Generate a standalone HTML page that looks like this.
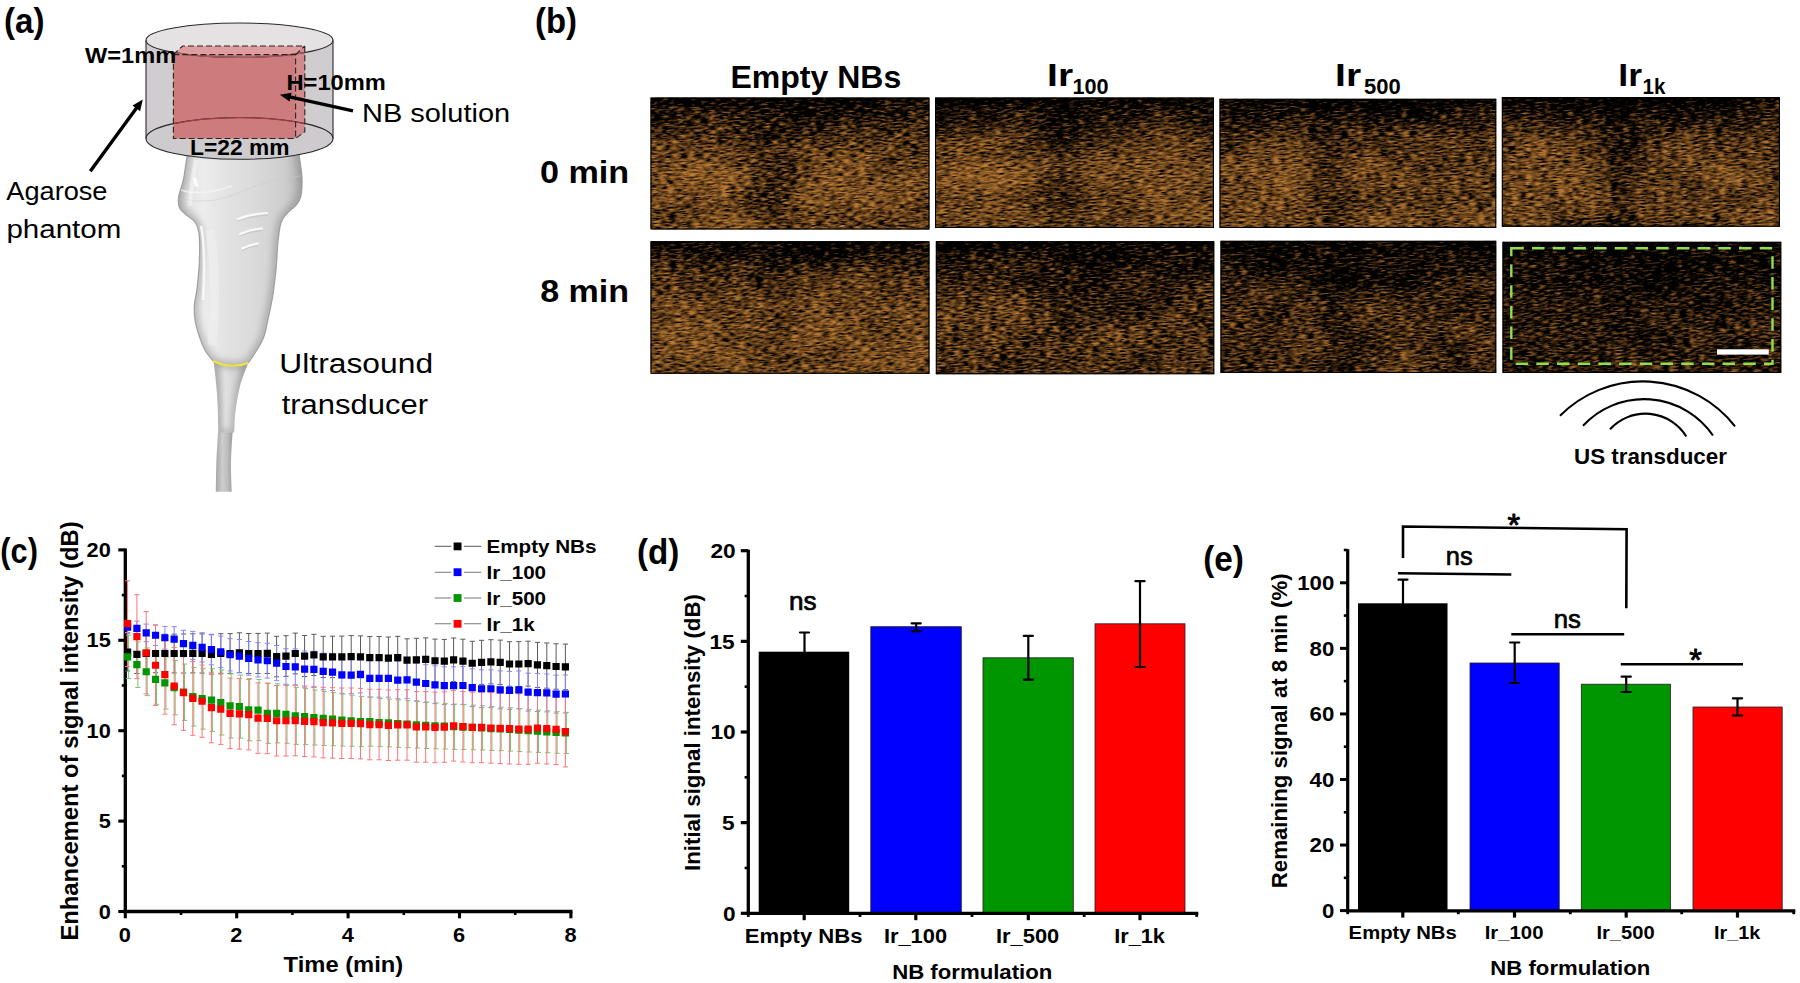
<!DOCTYPE html>
<html lang="en"><head><meta charset="utf-8"><title>Figure: ultrasound imaging of nanobubble formulations</title>
<style>
html,body{margin:0;padding:0;background:#fff;}
body{width:1800px;height:983px;overflow:hidden;}
svg{display:block;font-family:"Liberation Sans", sans-serif;}
text{white-space:pre;}
</style></head><body>
<svg width="1800" height="983" viewBox="0 0 1800 983">
<defs>
<linearGradient id="topdark" x1="0" y1="0" x2="0" y2="1">
<stop offset="0" stop-color="#000" stop-opacity="0.9"/>
<stop offset="0.08" stop-color="#000" stop-opacity="0.6"/>
<stop offset="0.25" stop-color="#000" stop-opacity="0.3"/>
<stop offset="0.4" stop-color="#000" stop-opacity="0.1"/>
<stop offset="0.55" stop-color="#000" stop-opacity="0"/>
</linearGradient>
<radialGradient id="blob">
<stop offset="0" stop-color="#000" stop-opacity="1"/>
<stop offset="0.3" stop-color="#000" stop-opacity="0.8"/>
<stop offset="0.6" stop-color="#000" stop-opacity="0.35"/>
<stop offset="0.85" stop-color="#000" stop-opacity="0.08"/>
<stop offset="1" stop-color="#000" stop-opacity="0"/>
</radialGradient>
<radialGradient id="wblob">
<stop offset="0" stop-color="#fff" stop-opacity="1"/>
<stop offset="0.3" stop-color="#fff" stop-opacity="0.8"/>
<stop offset="0.6" stop-color="#fff" stop-opacity="0.35"/>
<stop offset="0.85" stop-color="#fff" stop-opacity="0.08"/>
<stop offset="1" stop-color="#fff" stop-opacity="0"/>
</radialGradient>
<filter id="soft" x="-5%" y="-5%" width="110%" height="110%"><feGaussianBlur stdDeviation="0.7"/></filter>
<linearGradient id="gbody" gradientUnits="userSpaceOnUse" x1="178" y1="0" x2="302" y2="0">
<stop offset="0" stop-color="#c4c4c4"/><stop offset="0.07" stop-color="#e0e0e0"/><stop offset="0.2" stop-color="#ededed"/>
<stop offset="0.4" stop-color="#e2e2e2"/><stop offset="0.65" stop-color="#d9d9d9"/><stop offset="0.85" stop-color="#cfcfcf"/><stop offset="1" stop-color="#b4b4b4"/>
</linearGradient>
<linearGradient id="gneck" x1="0" y1="0" x2="1" y2="0">
<stop offset="0" stop-color="#bdbdbd"/><stop offset="0.35" stop-color="#e2e2e2"/><stop offset="0.65" stop-color="#d2d2d2"/><stop offset="1" stop-color="#adadad"/>
</linearGradient>
<linearGradient id="gcable" x1="0" y1="0" x2="1" y2="0">
<stop offset="0" stop-color="#a6a6a6"/><stop offset="0.4" stop-color="#cdcdcd"/><stop offset="0.7" stop-color="#bdbdbd"/><stop offset="1" stop-color="#9c9c9c"/>
</linearGradient>
<filter id="soft3" x="-10%" y="-10%" width="120%" height="120%"><feGaussianBlur stdDeviation="3"/></filter>
<clipPath id="clip0"><rect width="279.00" height="132.00"/></clipPath>
<filter id="sp3" x="0" y="0" width="100%" height="100%" color-interpolation-filters="sRGB"><feTurbulence type="fractalNoise" baseFrequency="0.13 0.62" numOctaves="2" seed="3"/><feColorMatrix type="matrix" values="1 0 0 0 0  1 0 0 0 0  1 0 0 0 0  0 0 0 0 1" result="n"/><feTurbulence type="fractalNoise" baseFrequency="0.02 0.035" numOctaves="2" seed="103"/><feColorMatrix type="matrix" values="1 0 0 0 0  1 0 0 0 0  1 0 0 0 0  0 0 0 0 1" result="m"/><feComposite in="n" in2="m" operator="arithmetic" k1="0" k2="1" k3="0.22" k4="-0.11" result="n2"/><feComposite in="n2" in2="SourceGraphic" operator="arithmetic" k1="0" k2="1" k3="0.4" k4="-0.4"/><feColorMatrix type="matrix" values="2.3 0 0 0 -0.552  2.3 0 0 0 -0.552  2.3 0 0 0 -0.552  0 0 0 0 1"/><feComponentTransfer><feFuncR type="gamma" amplitude="0.735" exponent="0.75"/><feFuncG type="gamma" amplitude="0.49" exponent="0.8"/><feFuncB type="gamma" amplitude="0.215" exponent="0.9"/></feComponentTransfer><feGaussianBlur stdDeviation="0.75 0.45"/></filter>
<clipPath id="clip1"><rect width="279.00" height="130.50"/></clipPath>
<filter id="sp7" x="0" y="0" width="100%" height="100%" color-interpolation-filters="sRGB"><feTurbulence type="fractalNoise" baseFrequency="0.13 0.62" numOctaves="2" seed="7"/><feColorMatrix type="matrix" values="1 0 0 0 0  1 0 0 0 0  1 0 0 0 0  0 0 0 0 1" result="n"/><feTurbulence type="fractalNoise" baseFrequency="0.02 0.035" numOctaves="2" seed="107"/><feColorMatrix type="matrix" values="1 0 0 0 0  1 0 0 0 0  1 0 0 0 0  0 0 0 0 1" result="m"/><feComposite in="n" in2="m" operator="arithmetic" k1="0" k2="1" k3="0.22" k4="-0.11" result="n2"/><feComposite in="n2" in2="SourceGraphic" operator="arithmetic" k1="0" k2="1" k3="0.4" k4="-0.4"/><feColorMatrix type="matrix" values="2.3 0 0 0 -0.552  2.3 0 0 0 -0.552  2.3 0 0 0 -0.552  0 0 0 0 1"/><feComponentTransfer><feFuncR type="gamma" amplitude="0.735" exponent="0.75"/><feFuncG type="gamma" amplitude="0.49" exponent="0.8"/><feFuncB type="gamma" amplitude="0.215" exponent="0.9"/></feComponentTransfer><feGaussianBlur stdDeviation="0.75 0.45"/></filter>
<clipPath id="clip2"><rect width="276.80" height="129.30"/></clipPath>
<filter id="sp11" x="0" y="0" width="100%" height="100%" color-interpolation-filters="sRGB"><feTurbulence type="fractalNoise" baseFrequency="0.13 0.62" numOctaves="2" seed="11"/><feColorMatrix type="matrix" values="1 0 0 0 0  1 0 0 0 0  1 0 0 0 0  0 0 0 0 1" result="n"/><feTurbulence type="fractalNoise" baseFrequency="0.02 0.035" numOctaves="2" seed="111"/><feColorMatrix type="matrix" values="1 0 0 0 0  1 0 0 0 0  1 0 0 0 0  0 0 0 0 1" result="m"/><feComposite in="n" in2="m" operator="arithmetic" k1="0" k2="1" k3="0.22" k4="-0.11" result="n2"/><feComposite in="n2" in2="SourceGraphic" operator="arithmetic" k1="0" k2="1" k3="0.4" k4="-0.4"/><feColorMatrix type="matrix" values="2.3 0 0 0 -0.552  2.3 0 0 0 -0.552  2.3 0 0 0 -0.552  0 0 0 0 1"/><feComponentTransfer><feFuncR type="gamma" amplitude="0.735" exponent="0.75"/><feFuncG type="gamma" amplitude="0.49" exponent="0.8"/><feFuncB type="gamma" amplitude="0.215" exponent="0.9"/></feComponentTransfer><feGaussianBlur stdDeviation="0.75 0.45"/></filter>
<clipPath id="clip3"><rect width="278.20" height="129.80"/></clipPath>
<filter id="sp15" x="0" y="0" width="100%" height="100%" color-interpolation-filters="sRGB"><feTurbulence type="fractalNoise" baseFrequency="0.13 0.62" numOctaves="2" seed="15"/><feColorMatrix type="matrix" values="1 0 0 0 0  1 0 0 0 0  1 0 0 0 0  0 0 0 0 1" result="n"/><feTurbulence type="fractalNoise" baseFrequency="0.02 0.035" numOctaves="2" seed="115"/><feColorMatrix type="matrix" values="1 0 0 0 0  1 0 0 0 0  1 0 0 0 0  0 0 0 0 1" result="m"/><feComposite in="n" in2="m" operator="arithmetic" k1="0" k2="1" k3="0.22" k4="-0.11" result="n2"/><feComposite in="n2" in2="SourceGraphic" operator="arithmetic" k1="0" k2="1" k3="0.4" k4="-0.4"/><feColorMatrix type="matrix" values="2.3 0 0 0 -0.552  2.3 0 0 0 -0.552  2.3 0 0 0 -0.552  0 0 0 0 1"/><feComponentTransfer><feFuncR type="gamma" amplitude="0.735" exponent="0.75"/><feFuncG type="gamma" amplitude="0.49" exponent="0.8"/><feFuncB type="gamma" amplitude="0.215" exponent="0.9"/></feComponentTransfer><feGaussianBlur stdDeviation="0.75 0.45"/></filter>
<clipPath id="clip4"><rect width="279.00" height="132.50"/></clipPath>
<filter id="sp19" x="0" y="0" width="100%" height="100%" color-interpolation-filters="sRGB"><feTurbulence type="fractalNoise" baseFrequency="0.13 0.62" numOctaves="2" seed="19"/><feColorMatrix type="matrix" values="1 0 0 0 0  1 0 0 0 0  1 0 0 0 0  0 0 0 0 1" result="n"/><feTurbulence type="fractalNoise" baseFrequency="0.02 0.035" numOctaves="2" seed="119"/><feColorMatrix type="matrix" values="1 0 0 0 0  1 0 0 0 0  1 0 0 0 0  0 0 0 0 1" result="m"/><feComposite in="n" in2="m" operator="arithmetic" k1="0" k2="1" k3="0.22" k4="-0.11" result="n2"/><feComposite in="n2" in2="SourceGraphic" operator="arithmetic" k1="0" k2="1" k3="0.4" k4="-0.4"/><feColorMatrix type="matrix" values="2.3 0 0 0 -0.552  2.3 0 0 0 -0.552  2.3 0 0 0 -0.552  0 0 0 0 1"/><feComponentTransfer><feFuncR type="gamma" amplitude="0.735" exponent="0.75"/><feFuncG type="gamma" amplitude="0.49" exponent="0.8"/><feFuncB type="gamma" amplitude="0.215" exponent="0.9"/></feComponentTransfer><feGaussianBlur stdDeviation="0.75 0.45"/></filter>
<clipPath id="clip5"><rect width="278.50" height="133.00"/></clipPath>
<filter id="sp23" x="0" y="0" width="100%" height="100%" color-interpolation-filters="sRGB"><feTurbulence type="fractalNoise" baseFrequency="0.13 0.62" numOctaves="2" seed="23"/><feColorMatrix type="matrix" values="1 0 0 0 0  1 0 0 0 0  1 0 0 0 0  0 0 0 0 1" result="n"/><feTurbulence type="fractalNoise" baseFrequency="0.02 0.035" numOctaves="2" seed="123"/><feColorMatrix type="matrix" values="1 0 0 0 0  1 0 0 0 0  1 0 0 0 0  0 0 0 0 1" result="m"/><feComposite in="n" in2="m" operator="arithmetic" k1="0" k2="1" k3="0.22" k4="-0.11" result="n2"/><feComposite in="n2" in2="SourceGraphic" operator="arithmetic" k1="0" k2="1" k3="0.4" k4="-0.4"/><feColorMatrix type="matrix" values="2.3 0 0 0 -0.552  2.3 0 0 0 -0.552  2.3 0 0 0 -0.552  0 0 0 0 1"/><feComponentTransfer><feFuncR type="gamma" amplitude="0.735" exponent="0.75"/><feFuncG type="gamma" amplitude="0.49" exponent="0.8"/><feFuncB type="gamma" amplitude="0.215" exponent="0.9"/></feComponentTransfer><feGaussianBlur stdDeviation="0.75 0.45"/></filter>
<clipPath id="clip6"><rect width="275.80" height="132.20"/></clipPath>
<filter id="sp27" x="0" y="0" width="100%" height="100%" color-interpolation-filters="sRGB"><feTurbulence type="fractalNoise" baseFrequency="0.13 0.62" numOctaves="2" seed="27"/><feColorMatrix type="matrix" values="1 0 0 0 0  1 0 0 0 0  1 0 0 0 0  0 0 0 0 1" result="n"/><feTurbulence type="fractalNoise" baseFrequency="0.02 0.035" numOctaves="2" seed="127"/><feColorMatrix type="matrix" values="1 0 0 0 0  1 0 0 0 0  1 0 0 0 0  0 0 0 0 1" result="m"/><feComposite in="n" in2="m" operator="arithmetic" k1="0" k2="1" k3="0.22" k4="-0.11" result="n2"/><feComposite in="n2" in2="SourceGraphic" operator="arithmetic" k1="0" k2="1" k3="0.4" k4="-0.4"/><feColorMatrix type="matrix" values="2.3 0 0 0 -0.552  2.3 0 0 0 -0.552  2.3 0 0 0 -0.552  0 0 0 0 1"/><feComponentTransfer><feFuncR type="gamma" amplitude="0.735" exponent="0.75"/><feFuncG type="gamma" amplitude="0.49" exponent="0.8"/><feFuncB type="gamma" amplitude="0.215" exponent="0.9"/></feComponentTransfer><feGaussianBlur stdDeviation="0.75 0.45"/></filter>
<clipPath id="clip7"><rect width="278.80" height="131.20"/></clipPath>
<filter id="sp31" x="0" y="0" width="100%" height="100%" color-interpolation-filters="sRGB"><feTurbulence type="fractalNoise" baseFrequency="0.13 0.62" numOctaves="2" seed="31"/><feColorMatrix type="matrix" values="1 0 0 0 0  1 0 0 0 0  1 0 0 0 0  0 0 0 0 1" result="n"/><feTurbulence type="fractalNoise" baseFrequency="0.02 0.035" numOctaves="2" seed="131"/><feColorMatrix type="matrix" values="1 0 0 0 0  1 0 0 0 0  1 0 0 0 0  0 0 0 0 1" result="m"/><feComposite in="n" in2="m" operator="arithmetic" k1="0" k2="1" k3="0.22" k4="-0.11" result="n2"/><feComposite in="n2" in2="SourceGraphic" operator="arithmetic" k1="0" k2="1" k3="0.4" k4="-0.4"/><feColorMatrix type="matrix" values="2.3 0 0 0 -0.552  2.3 0 0 0 -0.552  2.3 0 0 0 -0.552  0 0 0 0 1"/><feComponentTransfer><feFuncR type="gamma" amplitude="0.735" exponent="0.75"/><feFuncG type="gamma" amplitude="0.49" exponent="0.8"/><feFuncB type="gamma" amplitude="0.215" exponent="0.9"/></feComponentTransfer><feGaussianBlur stdDeviation="0.75 0.45"/></filter>
</defs>
<rect width="1800" height="983" fill="#fff"/>
<g id="panel-a">
<text transform="translate(3.97,33.40) scale(0.9335,1)" font-size="35.5" font-weight="700" fill="#000">(a)</text>
<g filter="url(#soft)">
<path d="M218.0,432.0C217.7,437.0 216.8,452.1 216.4,462.0C216.0,471.9 215.9,486.8 215.8,491.7L231.7,491.7C231.6,486.8 230.8,471.9 231.0,462.0C231.2,452.1 232.3,437.0 232.6,432.0Z" fill="url(#gcable)"/>
<path d="M213.6,361.5C213.9,364.2 215.0,371.6 215.6,378.0C216.2,384.4 216.9,390.9 217.4,400.0C217.9,409.1 218.2,427.1 218.3,432.5L234.2,432.5C234.4,429.1 234.4,419.8 235.4,412.0C236.4,404.2 237.9,394.1 240.0,386.0C242.1,377.9 246.7,367.2 248.0,363.5Q230.6,369.5 213.6,361.5Z" fill="url(#gneck)"/>
<path d="M189.0,148.0C188.6,149.7 187.6,153.0 186.7,158.3C185.8,163.6 184.7,173.6 183.3,180.0C182.0,186.4 179.2,192.3 178.6,197.0C178.0,201.7 178.2,204.9 179.6,208.0C181.0,211.1 184.4,213.2 187.0,215.5C189.6,217.8 193.0,219.0 195.0,222.0C197.0,225.0 198.3,227.0 199.0,233.3C199.7,239.6 199.7,251.1 199.4,260.0C199.1,268.9 198.0,279.5 197.2,287.0C196.4,294.5 194.8,299.5 194.4,305.0C194.0,310.5 194.3,315.2 195.0,320.0C195.7,324.8 196.8,328.9 198.5,334.0C200.2,339.1 202.5,345.8 205.0,350.3C207.5,354.8 211.9,359.2 213.3,361.0Q230.6,369.5 248.3,363L248.3,363.0C249.3,361.5 251.8,358.2 254.4,354.0C256.9,349.8 261.3,343.5 263.6,337.5C265.9,331.5 266.8,324.8 268.3,318.0C269.8,311.2 271.4,304.8 272.7,296.5C274.0,288.2 275.3,277.1 276.2,268.0C277.1,258.9 277.2,249.1 278.0,241.6C278.8,234.1 279.5,227.7 281.0,223.0C282.5,218.3 284.5,216.4 287.0,213.5C289.5,210.6 293.7,208.4 296.0,205.5C298.3,202.6 300.0,200.7 301.0,196.0C302.0,191.3 302.2,183.8 302.0,177.5C301.8,171.2 300.2,162.9 299.6,158.0C299.0,153.1 298.7,149.7 298.5,148.0Z" fill="url(#gbody)" stroke="#a9a9a9" stroke-width="1.2"/>
<clipPath id="cbody"><path d="M189.0,148.0C188.6,149.7 187.6,153.0 186.7,158.3C185.8,163.6 184.7,173.6 183.3,180.0C182.0,186.4 179.2,192.3 178.6,197.0C178.0,201.7 178.2,204.9 179.6,208.0C181.0,211.1 184.4,213.2 187.0,215.5C189.6,217.8 193.0,219.0 195.0,222.0C197.0,225.0 198.3,227.0 199.0,233.3C199.7,239.6 199.7,251.1 199.4,260.0C199.1,268.9 198.0,279.5 197.2,287.0C196.4,294.5 194.8,299.5 194.4,305.0C194.0,310.5 194.3,315.2 195.0,320.0C195.7,324.8 196.8,328.9 198.5,334.0C200.2,339.1 202.5,345.8 205.0,350.3C207.5,354.8 211.9,359.2 213.3,361.0Q230.6,369.5 248.3,363L248.3,363.0C249.3,361.5 251.8,358.2 254.4,354.0C256.9,349.8 261.3,343.5 263.6,337.5C265.9,331.5 266.8,324.8 268.3,318.0C269.8,311.2 271.4,304.8 272.7,296.5C274.0,288.2 275.3,277.1 276.2,268.0C277.1,258.9 277.2,249.1 278.0,241.6C278.8,234.1 279.5,227.7 281.0,223.0C282.5,218.3 284.5,216.4 287.0,213.5C289.5,210.6 293.7,208.4 296.0,205.5C298.3,202.6 300.0,200.7 301.0,196.0C302.0,191.3 302.2,183.8 302.0,177.5C301.8,171.2 300.2,162.9 299.6,158.0C299.0,153.1 298.7,149.7 298.5,148.0Z"/></clipPath>
<g clip-path="url(#cbody)"><path d="M189.0,148.0C188.6,149.7 187.6,153.0 186.7,158.3C185.8,163.6 184.7,173.6 183.3,180.0C182.0,186.4 179.2,192.3 178.6,197.0C178.0,201.7 178.2,204.9 179.6,208.0C181.0,211.1 184.4,213.2 187.0,215.5C189.6,217.8 193.0,219.0 195.0,222.0C197.0,225.0 198.3,227.0 199.0,233.3C199.7,239.6 199.7,251.1 199.4,260.0C199.1,268.9 198.0,279.5 197.2,287.0C196.4,294.5 194.8,299.5 194.4,305.0C194.0,310.5 194.3,315.2 195.0,320.0C195.7,324.8 196.8,328.9 198.5,334.0C200.2,339.1 202.5,345.8 205.0,350.3C207.5,354.8 211.9,359.2 213.3,361.0Q230.6,369.5 248.3,363L248.3,363.0C249.3,361.5 251.8,358.2 254.4,354.0C256.9,349.8 261.3,343.5 263.6,337.5C265.9,331.5 266.8,324.8 268.3,318.0C269.8,311.2 271.4,304.8 272.7,296.5C274.0,288.2 275.3,277.1 276.2,268.0C277.1,258.9 277.2,249.1 278.0,241.6C278.8,234.1 279.5,227.7 281.0,223.0C282.5,218.3 284.5,216.4 287.0,213.5C289.5,210.6 293.7,208.4 296.0,205.5C298.3,202.6 300.0,200.7 301.0,196.0C302.0,191.3 302.2,183.8 302.0,177.5C301.8,171.2 300.2,162.9 299.6,158.0C299.0,153.1 298.7,149.7 298.5,148.0Z" fill="none" stroke="#7d7d7d" stroke-width="9" opacity="0.42" filter="url(#soft3)"/></g>
<clipPath id="cneck"><path d="M213.6,361.5C213.9,364.2 215.0,371.6 215.6,378.0C216.2,384.4 216.9,390.9 217.4,400.0C217.9,409.1 218.2,427.1 218.3,432.5L234.2,432.5C234.4,429.1 234.4,419.8 235.4,412.0C236.4,404.2 237.9,394.1 240.0,386.0C242.1,377.9 246.7,367.2 248.0,363.5Q230.6,369.5 213.6,361.5Z"/></clipPath>
<g clip-path="url(#cneck)"><path d="M213.6,361.5C213.9,364.2 215.0,371.6 215.6,378.0C216.2,384.4 216.9,390.9 217.4,400.0C217.9,409.1 218.2,427.1 218.3,432.5L234.2,432.5C234.4,429.1 234.4,419.8 235.4,412.0C236.4,404.2 237.9,394.1 240.0,386.0C242.1,377.9 246.7,367.2 248.0,363.5Q230.6,369.5 213.6,361.5Z" fill="none" stroke="#777" stroke-width="6" opacity="0.4" filter="url(#soft3)"/></g>
<path d="M180,199 Q215,206 245,190 Q275,178 301,176" fill="none" stroke="#c9c9c9" stroke-width="0.8" opacity="0.6"/>
<path d="M181,190 Q200,197 232,186" fill="none" stroke="#f6f6f6" stroke-width="1.8" opacity="0.7"/>
<path d="M192.5,177 l4.5,1.5 l1.5,9 l-4,-1.5z" fill="#fbfbfb"/>
<path d="M196,160 Q191,185 190,206" fill="none" stroke="#fafafa" stroke-width="4" opacity="0.45"/>
<path d="M201,226 Q206,250 203,300" fill="none" stroke="#fbfbfb" stroke-width="2.6" opacity="0.9"/>
<path d="M210,230 Q218,280 212,345" fill="none" stroke="#f0f0f0" stroke-width="9" opacity="0.55"/>
<path d="M238,219 Q252,213.5 267,213" fill="none" stroke="#fafafa" stroke-width="2" stroke-linecap="round"/>
<path d="M240,234 Q251,229 262,228.5" fill="none" stroke="#fafafa" stroke-width="2" stroke-linecap="round"/>
<path d="M242,248.5 Q250,244.5 258,243.5" fill="none" stroke="#fafafa" stroke-width="2" stroke-linecap="round"/>
<path d="M238,221 Q252,215.5 267,215" fill="none" stroke="#bdbdbd" stroke-width="1" stroke-linecap="round" opacity="0.7"/>
<path d="M240,236 Q251,231 262,230.5" fill="none" stroke="#bdbdbd" stroke-width="1" stroke-linecap="round" opacity="0.7"/>
<path d="M242,250.5 Q250,246.5 258,245.5" fill="none" stroke="#bdbdbd" stroke-width="1" stroke-linecap="round" opacity="0.7"/>
</g>
<path d="M213.3,361 Q230.6,369.5 248.3,363" fill="none" stroke="#f1e23c" stroke-width="2.1"/>
<path d="M146,40.5 L146,138.5 A93.5,20.9 0 0 0 333,138.4 L333,40.5 A93.5,17 0 0 1 146,40.5Z" fill="#cfcdcf"/>
<ellipse cx="239.5" cy="138.4" rx="93.5" ry="20.9" fill="#cdcbcd"/>
<ellipse cx="239.5" cy="40.2" rx="93.5" ry="17.2" fill="#e4e2e3"/>
<path d="M173.4,54.6 L182.6,46 L304.8,46 L295.6,54.6Z" fill="#de9d9f"/>
<path d="M295.6,54.6 L304.8,46 L304.8,131.8 L295.6,138.5Z" fill="#d18b8c"/>
<rect x="173.4" y="54.6" width="122.2" height="83.9" fill="#cd7c7d"/>
<ellipse cx="239.5" cy="138.4" rx="93.5" ry="20.9" fill="none" stroke="#2a2a2a" stroke-width="1.1"/>
<path d="M173.4,123.6 A93.5,20.9 0 0 1 304.8,123.6" fill="none" stroke="#a23c40" stroke-width="1.3"/>
<ellipse cx="239.5" cy="40.2" rx="93.5" ry="17.2" fill="none" stroke="#2a2a2a" stroke-width="1.1"/>
<path d="M173.4,52.4 A93.5,17.2 0 0 0 304.8,52.6" fill="none" stroke="#b05a5c" stroke-width="1.1"/>
<line x1="146.00" y1="40.50" x2="146.00" y2="138.50" stroke="#2a2a2a" stroke-width="1.1" />
<line x1="333.00" y1="40.50" x2="333.00" y2="138.50" stroke="#2a2a2a" stroke-width="1.1" />
<path d="M173.4,54.6 L182.6,46 L304.8,46 L304.8,131.8 L295.6,138.5 L173.4,138.5Z M173.4,54.6 L295.6,54.6 L295.6,138.5 M295.6,54.6 L304.8,46" fill="none" stroke="#2c2224" stroke-width="1.1" stroke-dasharray="6 3"/>
<line x1="90.30" y1="171.20" x2="136.89" y2="107.57" stroke="#000" stroke-width="3.4" />
<path d="M142.8,99.5 L140.1,111.2 L132.5,105.6Z" fill="#000"/>
<line x1="353.00" y1="110.90" x2="289.56" y2="96.86" stroke="#000" stroke-width="3.4" />
<path d="M279.8,94.7 L291.5,92.7 L289.6,101.5Z" fill="#000"/>
<text transform="translate(85.00,62.60) scale(1.0444,1)" font-size="22.6" font-weight="700" fill="#000">W=1mm</text>
<text transform="translate(286.45,89.80) scale(1.0482,1)" font-size="22.6" font-weight="700" fill="#000">H=10mm</text>
<text transform="translate(190.09,155.40) scale(1.0073,1)" font-size="22.6" font-weight="700" fill="#000">L=22 mm</text>
<text transform="translate(362.00,122.00) scale(1.0977,1)" font-size="26.4" font-weight="400" fill="#000">NB solution</text>
<text transform="translate(6.30,200.00) scale(1.0218,1)" font-size="26.6" font-weight="400" fill="#000">Agarose</text>
<text transform="translate(6.39,238.30) scale(1.1101,1)" font-size="26.6" font-weight="400" fill="#000">phantom</text>
<text transform="translate(279.36,373.00) scale(1.1686,1)" font-size="27.2" font-weight="400" fill="#000">Ultrasound</text>
<text transform="translate(281.70,413.80) scale(1.1394,1)" font-size="27.2" font-weight="400" fill="#000">transducer</text>
</g>
<g id="panel-b">
<text transform="translate(535.07,33.40) scale(0.9263,1)" font-size="35.5" font-weight="700" fill="#000">(b)</text>
<text transform="translate(730.43,87.50) scale(1.0331,1)" font-size="31" font-weight="700" fill="#000">Empty NBs</text>
<text transform="translate(539.93,183.00) scale(1.0675,1)" font-size="32" font-weight="700" fill="#000">0 min</text>
<text transform="translate(540.19,301.75) scale(1.0644,1)" font-size="32" font-weight="700" fill="#000">8 min</text>
<text transform="translate(1047.06,85.75) scale(1.2175,1)" font-size="32" font-weight="700" fill="#000">Ir</text>
<text transform="translate(1072.49,94.25) scale(1.0096,1)" font-size="21.5" font-weight="700" fill="#000">100</text>
<text transform="translate(1335.06,85.75) scale(1.2175,1)" font-size="32" font-weight="700" fill="#000">Ir</text>
<text transform="translate(1364.00,94.25) scale(1.0233,1)" font-size="21.5" font-weight="700" fill="#000">500</text>
<text transform="translate(1618.28,85.75) scale(1.1117,1)" font-size="32" font-weight="700" fill="#000">Ir</text>
<text transform="translate(1642.54,94.25) scale(0.9583,1)" font-size="21.5" font-weight="700" fill="#000">1k</text>
<g transform="translate(650.50,97.50)" clip-path="url(#clip0)">
<rect width="279.00" height="132.00" fill="#000"/>
<g transform="rotate(-4 139.5 66.0)" filter="url(#sp3)"><g transform="rotate(4 139.5 66.0)">
<rect x="-60" y="-60" width="399.00" height="252.00" fill="rgb(217,217,217)"/>
<rect width="279.00" height="132.00" fill="url(#topdark)" opacity="1.0"/>
<ellipse cx="120.0" cy="66.0" rx="36.3" ry="158.4" fill="url(#blob)" opacity="0.28"/>
<ellipse cx="133.9" cy="0.0" rx="78.1" ry="52.8" fill="url(#blob)" opacity="0.32"/>
<ellipse cx="50.2" cy="81.8" rx="61.4" ry="52.8" fill="url(#wblob)" opacity="0.7"/>
<ellipse cx="209.2" cy="79.2" rx="69.8" ry="46.2" fill="url(#wblob)" opacity="0.6"/>
</g></g>
<rect x="0.4" y="0.4" width="278.20" height="131.20" fill="none" stroke="#000" stroke-width="1.4"/>
</g>
<g transform="translate(935.00,97.50)" clip-path="url(#clip1)">
<rect width="279.00" height="130.50" fill="#000"/>
<g transform="rotate(-5 139.5 65.2)" filter="url(#sp7)"><g transform="rotate(5 139.5 65.2)">
<rect x="-60" y="-60" width="399.00" height="250.50" fill="rgb(217,217,217)"/>
<rect width="279.00" height="130.50" fill="url(#topdark)" opacity="1.0"/>
<ellipse cx="125.5" cy="65.2" rx="39.1" ry="156.6" fill="url(#blob)" opacity="0.3"/>
<ellipse cx="167.4" cy="0.0" rx="83.7" ry="45.7" fill="url(#blob)" opacity="0.28"/>
<ellipse cx="195.3" cy="130.5" rx="83.7" ry="39.1" fill="url(#blob)" opacity="0.15"/>
<ellipse cx="44.6" cy="78.3" rx="61.4" ry="54.8" fill="url(#wblob)" opacity="0.8"/>
<ellipse cx="237.2" cy="65.2" rx="55.8" ry="45.7" fill="url(#wblob)" opacity="0.6"/>
</g></g>
<rect x="0.4" y="0.4" width="278.20" height="129.70" fill="none" stroke="#000" stroke-width="1.4"/>
</g>
<g transform="translate(1219.50,98.70)" clip-path="url(#clip2)">
<rect width="276.80" height="129.30" fill="#000"/>
<g transform="rotate(-4 138.4 64.7)" filter="url(#sp11)"><g transform="rotate(4 138.4 64.7)">
<rect x="-60" y="-60" width="396.80" height="249.30" fill="rgb(209,209,209)"/>
<rect width="276.80" height="129.30" fill="url(#topdark)" opacity="1.0"/>
<ellipse cx="110.7" cy="64.7" rx="33.2" ry="155.2" fill="url(#blob)" opacity="0.28"/>
<ellipse cx="207.6" cy="64.7" rx="83.0" ry="116.4" fill="url(#blob)" opacity="0.06"/>
<ellipse cx="138.4" cy="0.0" rx="110.7" ry="38.8" fill="url(#blob)" opacity="0.22"/>
<ellipse cx="38.8" cy="80.2" rx="55.4" ry="51.7" fill="url(#wblob)" opacity="0.8"/>
</g></g>
<rect x="0.4" y="0.4" width="276.00" height="128.50" fill="none" stroke="#000" stroke-width="1.4"/>
</g>
<g transform="translate(1501.80,97.00)" clip-path="url(#clip3)">
<rect width="278.20" height="129.80" fill="#000"/>
<g transform="rotate(-4 139.1 64.9)" filter="url(#sp15)"><g transform="rotate(4 139.1 64.9)">
<rect x="-60" y="-60" width="398.20" height="249.80" fill="rgb(204,204,204)"/>
<rect width="278.20" height="129.80" fill="url(#topdark)" opacity="1.0"/>
<ellipse cx="119.6" cy="64.9" rx="33.4" ry="155.8" fill="url(#blob)" opacity="0.34"/>
<ellipse cx="139.1" cy="0.0" rx="139.1" ry="32.5" fill="url(#blob)" opacity="0.2"/>
<ellipse cx="139.1" cy="129.8" rx="166.9" ry="15.6" fill="url(#blob)" opacity="0.25"/>
<ellipse cx="44.5" cy="64.9" rx="61.2" ry="51.9" fill="url(#wblob)" opacity="0.5"/>
<ellipse cx="222.6" cy="71.4" rx="61.2" ry="45.4" fill="url(#wblob)" opacity="0.4"/>
</g></g>
<rect x="0.4" y="0.4" width="277.40" height="129.00" fill="none" stroke="#000" stroke-width="1.4"/>
</g>
<g transform="translate(650.50,241.30)" clip-path="url(#clip4)">
<rect width="279.00" height="132.50" fill="#000"/>
<g transform="rotate(-5 139.5 66.2)" filter="url(#sp19)"><g transform="rotate(5 139.5 66.2)">
<rect x="-60" y="-60" width="399.00" height="252.50" fill="rgb(217,217,217)"/>
<rect width="279.00" height="132.50" fill="url(#topdark)" opacity="0.9"/>
<ellipse cx="125.5" cy="66.2" rx="27.9" ry="159.0" fill="url(#blob)" opacity="0.1"/>
<ellipse cx="167.4" cy="0.0" rx="111.6" ry="33.1" fill="url(#blob)" opacity="0.22"/>
<ellipse cx="55.8" cy="79.5" rx="69.8" ry="53.0" fill="url(#wblob)" opacity="0.4"/>
<ellipse cx="223.2" cy="79.5" rx="69.8" ry="53.0" fill="url(#wblob)" opacity="0.4"/>
</g></g>
<rect x="0.4" y="0.4" width="278.20" height="131.70" fill="none" stroke="#000" stroke-width="1.4"/>
</g>
<g transform="translate(935.80,241.30)" clip-path="url(#clip5)">
<rect width="278.50" height="133.00" fill="#000"/>
<g transform="rotate(-4 139.2 66.5)" filter="url(#sp23)"><g transform="rotate(4 139.2 66.5)">
<rect x="-60" y="-60" width="398.50" height="253.00" fill="rgb(168,168,168)"/>
<rect width="278.50" height="133.00" fill="url(#topdark)" opacity="1.0"/>
<ellipse cx="167.1" cy="39.9" rx="97.5" ry="79.8" fill="url(#blob)" opacity="0.22"/>
<ellipse cx="125.3" cy="66.5" rx="27.9" ry="159.6" fill="url(#blob)" opacity="0.1"/>
<ellipse cx="33.4" cy="73.2" rx="55.7" ry="59.9" fill="url(#wblob)" opacity="0.4"/>
</g></g>
<rect x="0.4" y="0.4" width="277.70" height="132.20" fill="none" stroke="#000" stroke-width="1.4"/>
</g>
<g transform="translate(1220.50,240.80)" clip-path="url(#clip6)">
<rect width="275.80" height="132.20" fill="#000"/>
<g transform="rotate(-4 137.9 66.1)" filter="url(#sp27)"><g transform="rotate(4 137.9 66.1)">
<rect x="-60" y="-60" width="395.80" height="252.20" fill="rgb(153,153,153)"/>
<rect width="275.80" height="132.20" fill="url(#topdark)" opacity="1.0"/>
<ellipse cx="137.9" cy="13.2" rx="137.9" ry="52.9" fill="url(#blob)" opacity="0.25"/>
<ellipse cx="115.8" cy="66.1" rx="27.6" ry="158.6" fill="url(#blob)" opacity="0.12"/>
</g></g>
<rect x="0.4" y="0.4" width="275.00" height="131.40" fill="none" stroke="#000" stroke-width="1.4"/>
</g>
<g transform="translate(1502.50,241.80)" clip-path="url(#clip7)">
<rect width="278.80" height="131.20" fill="#000"/>
<g transform="rotate(-5 139.4 65.6)" filter="url(#sp31)"><g transform="rotate(5 139.4 65.6)">
<rect x="-60" y="-60" width="398.80" height="251.20" fill="rgb(122,122,122)"/>
<rect width="278.80" height="131.20" fill="url(#topdark)" opacity="1.0"/>
<ellipse cx="153.3" cy="26.2" rx="125.5" ry="59.0" fill="url(#blob)" opacity="0.2"/>
<ellipse cx="139.4" cy="65.6" rx="41.8" ry="157.4" fill="url(#blob)" opacity="0.08"/>
</g></g>
<rect x="0.4" y="0.4" width="278.00" height="130.40" fill="none" stroke="#000" stroke-width="1.4"/>
</g>
<rect x="1511.3" y="248.3" width="261.2" height="115.4" fill="none" stroke="#92dc50" stroke-width="2.4" stroke-dasharray="12.5 8.2"/>
<rect x="1717.00" y="349.30" width="51.80" height="5.30" fill="#ffffff" />
<path d="M1560,415.8 A117,117 0 0 1 1735,426.3 M1583,425.8 A83.4,83.4 0 0 1 1713,435.5 M1610,429.3 A48,48 0 0 1 1686.3,436.5" fill="none" stroke="#000" stroke-width="2.1"/>
<text transform="translate(1573.97,463.75) scale(1.0318,1)" font-size="21.7" font-weight="700" fill="#000">US transducer</text>
</g>
<g id="panel-c">
<line x1="125.30" y1="548.40" x2="125.30" y2="913.20" stroke="#000" stroke-width="3.3" />
<line x1="123.70" y1="911.50" x2="572.50" y2="911.50" stroke="#000" stroke-width="3.3" />
<line x1="118.30" y1="911.50" x2="125.30" y2="911.50" stroke="#000" stroke-width="3.1" />
<line x1="118.30" y1="821.10" x2="125.30" y2="821.10" stroke="#000" stroke-width="3.1" />
<line x1="118.30" y1="730.70" x2="125.30" y2="730.70" stroke="#000" stroke-width="3.1" />
<line x1="118.30" y1="640.30" x2="125.30" y2="640.30" stroke="#000" stroke-width="3.1" />
<line x1="118.30" y1="549.90" x2="125.30" y2="549.90" stroke="#000" stroke-width="3.1" />
<line x1="121.80" y1="866.30" x2="125.30" y2="866.30" stroke="#000" stroke-width="2.6" />
<line x1="121.80" y1="775.90" x2="125.30" y2="775.90" stroke="#000" stroke-width="2.6" />
<line x1="121.80" y1="685.50" x2="125.30" y2="685.50" stroke="#000" stroke-width="2.6" />
<line x1="121.80" y1="595.10" x2="125.30" y2="595.10" stroke="#000" stroke-width="2.6" />
<line x1="125.30" y1="911.50" x2="125.30" y2="918.30" stroke="#000" stroke-width="3.1" />
<line x1="236.70" y1="911.50" x2="236.70" y2="918.30" stroke="#000" stroke-width="3.1" />
<line x1="348.10" y1="911.50" x2="348.10" y2="918.30" stroke="#000" stroke-width="3.1" />
<line x1="459.50" y1="911.50" x2="459.50" y2="918.30" stroke="#000" stroke-width="3.1" />
<line x1="570.90" y1="911.50" x2="570.90" y2="918.30" stroke="#000" stroke-width="3.1" />
<line x1="181.00" y1="911.50" x2="181.00" y2="915.00" stroke="#000" stroke-width="2.6" />
<line x1="292.40" y1="911.50" x2="292.40" y2="915.00" stroke="#000" stroke-width="2.6" />
<line x1="403.80" y1="911.50" x2="403.80" y2="915.00" stroke="#000" stroke-width="2.6" />
<line x1="515.20" y1="911.50" x2="515.20" y2="915.00" stroke="#000" stroke-width="2.6" />
<path d="M127.6,633.1V671.0M125.0,633.1h5.2M125.0,671.0h5.2M136.9,635.3V673.5M134.3,635.3h5.2M134.3,673.5h5.2M146.2,634.4V672.6M143.6,634.4h5.2M143.6,672.6h5.2M155.5,634.3V672.7M152.9,634.3h5.2M152.9,672.7h5.2M164.9,634.2V672.8M162.3,634.2h5.2M162.3,672.8h5.2M174.2,634.1V672.9M171.6,634.1h5.2M171.6,672.9h5.2M183.5,634.0V673.0M180.9,634.0h5.2M180.9,673.0h5.2M192.8,633.8V672.9M190.2,633.8h5.2M190.2,672.9h5.2M202.1,633.9V673.1M199.5,633.9h5.2M199.5,673.1h5.2M211.4,634.7V674.1M208.8,634.7h5.2M208.8,674.1h5.2M220.8,633.7V673.3M218.2,633.7h5.2M218.2,673.3h5.2M230.1,633.6V673.4M227.5,633.6h5.2M227.5,673.4h5.2M239.4,632.8V672.7M236.8,632.8h5.2M236.8,672.7h5.2M248.7,633.5V673.5M246.1,633.5h5.2M246.1,673.5h5.2M258.0,633.4V673.6M255.4,633.4h5.2M255.4,673.6h5.2M267.3,633.1V673.5M264.7,633.1h5.2M264.7,673.5h5.2M276.6,636.3V676.8M274.0,636.3h5.2M274.0,676.8h5.2M286.0,635.7V676.4M283.4,635.7h5.2M283.4,676.4h5.2M295.3,633.1V673.9M292.7,633.1h5.2M292.7,673.9h5.2M304.6,635.5V676.5M302.0,635.5h5.2M302.0,676.5h5.2M313.9,634.3V675.5M311.3,634.3h5.2M311.3,675.5h5.2M323.2,636.3V677.6M320.6,636.3h5.2M320.6,677.6h5.2M332.5,636.2V677.7M329.9,636.2h5.2M329.9,677.7h5.2M341.8,636.1V677.8M339.2,636.1h5.2M339.2,677.8h5.2M351.2,635.6V677.5M348.6,635.6h5.2M348.6,677.5h5.2M360.5,635.9V677.9M357.9,635.9h5.2M357.9,677.9h5.2M369.8,636.6V678.7M367.2,636.6h5.2M367.2,678.7h5.2M379.1,636.5V678.8M376.5,636.5h5.2M376.5,678.8h5.2M388.4,637.0V679.4M385.8,637.0h5.2M385.8,679.4h5.2M397.7,636.3V679.0M395.1,636.3h5.2M395.1,679.0h5.2M407.0,638.8V681.6M404.4,638.8h5.2M404.4,681.6h5.2M416.4,638.3V681.3M413.8,638.3h5.2M413.8,681.3h5.2M425.7,637.9V681.0M423.1,637.9h5.2M423.1,681.0h5.2M435.0,639.1V682.4M432.4,639.1h5.2M432.4,682.4h5.2M444.3,639.4V682.8M441.7,639.4h5.2M441.7,682.8h5.2M453.6,638.0V681.6M451.0,638.0h5.2M451.0,681.6h5.2M462.9,639.2V683.0M460.3,639.2h5.2M460.3,683.0h5.2M472.3,641.3V685.2M469.7,641.3h5.2M469.7,685.2h5.2M481.6,640.3V684.4M479.0,640.3h5.2M479.0,684.4h5.2M490.9,639.7V683.9M488.3,639.7h5.2M488.3,683.9h5.2M500.2,640.1V684.6M497.6,640.1h5.2M497.6,684.6h5.2M509.5,641.7V686.3M506.9,641.7h5.2M506.9,686.3h5.2M518.8,641.6V686.4M516.2,641.6h5.2M516.2,686.4h5.2M528.1,641.2V686.1M525.5,641.2h5.2M525.5,686.1h5.2M537.5,642.4V687.4M534.9,642.4h5.2M534.9,687.4h5.2M546.8,643.0V688.2M544.2,643.0h5.2M544.2,688.2h5.2M556.1,643.8V689.2M553.5,643.8h5.2M553.5,689.2h5.2M565.4,644.1V689.7M562.8,644.1h5.2M562.8,689.7h5.2" fill="none" stroke="#5a5a5a" stroke-width="1.0"/>
<path d="M127.6,621.7V632.5M125.0,621.7h5.2M125.0,632.5h5.2M136.9,621.1V635.6M134.3,621.1h5.2M134.3,635.6h5.2M146.2,624.1V641.7M143.6,624.1h5.2M143.6,641.7h5.2M155.5,625.1V645.4M152.9,625.1h5.2M152.9,645.4h5.2M164.9,626.4V649.1M162.3,626.4h5.2M162.3,649.1h5.2M174.2,626.7V651.4M171.6,626.7h5.2M171.6,651.4h5.2M183.5,630.3V656.8M180.9,630.3h5.2M180.9,656.8h5.2M192.8,631.4V659.4M190.2,631.4h5.2M190.2,659.4h5.2M202.1,632.7V662.0M199.5,632.7h5.2M199.5,662.0h5.2M211.4,634.3V664.8M208.8,634.3h5.2M208.8,664.8h5.2M220.8,636.1V667.6M218.2,636.1h5.2M218.2,667.6h5.2M230.1,638.6V670.9M227.5,638.6h5.2M227.5,670.9h5.2M239.4,639.5V672.6M236.8,639.5h5.2M236.8,672.6h5.2M248.7,641.5V675.2M246.1,641.5h5.2M246.1,675.2h5.2M258.0,642.7V677.0M255.4,642.7h5.2M255.4,677.0h5.2M267.3,643.3V678.1M264.7,643.3h5.2M264.7,678.1h5.2M276.6,645.5V680.7M274.0,645.5h5.2M274.0,680.7h5.2M286.0,648.7V684.3M283.4,648.7h5.2M283.4,684.3h5.2M295.3,648.9V684.8M292.7,648.9h5.2M292.7,684.8h5.2M304.6,651.0V687.1M302.0,651.0h5.2M302.0,687.1h5.2M313.9,651.2V687.6M311.3,651.2h5.2M311.3,687.6h5.2M323.2,653.1V689.7M320.6,653.1h5.2M320.6,689.7h5.2M332.5,653.7V690.5M329.9,653.7h5.2M329.9,690.5h5.2M341.8,656.4V693.3M339.2,656.4h5.2M339.2,693.3h5.2M351.2,656.7V693.7M348.6,656.7h5.2M348.6,693.7h5.2M360.5,655.7V692.9M357.9,655.7h5.2M357.9,692.9h5.2M369.8,659.8V697.1M367.2,659.8h5.2M367.2,697.1h5.2M379.1,659.8V697.1M376.5,659.8h5.2M376.5,697.1h5.2M388.4,659.7V697.2M385.8,659.7h5.2M385.8,697.2h5.2M397.7,661.3V698.8M395.1,661.3h5.2M395.1,698.8h5.2M407.0,661.1V698.7M404.4,661.1h5.2M404.4,698.7h5.2M416.4,663.2V700.9M413.8,663.2h5.2M413.8,700.9h5.2M425.7,664.7V702.4M423.1,664.7h5.2M423.1,702.4h5.2M435.0,665.9V703.6M432.4,665.9h5.2M432.4,703.6h5.2M444.3,666.8V704.6M441.7,666.8h5.2M441.7,704.6h5.2M453.6,666.8V704.6M451.0,666.8h5.2M451.0,704.6h5.2M462.9,666.6V704.4M460.3,666.6h5.2M460.3,704.4h5.2M472.3,668.8V706.6M469.7,668.8h5.2M469.7,706.6h5.2M481.6,669.8V707.7M479.0,669.8h5.2M479.0,707.7h5.2M490.9,669.8V707.7M488.3,669.8h5.2M488.3,707.7h5.2M500.2,670.9V708.8M497.6,670.9h5.2M497.6,708.8h5.2M509.5,671.4V709.3M506.9,671.4h5.2M506.9,709.3h5.2M518.8,670.9V708.8M516.2,670.9h5.2M516.2,708.8h5.2M528.1,673.2V711.1M525.5,673.2h5.2M525.5,711.1h5.2M537.5,673.6V711.5M534.9,673.6h5.2M534.9,711.5h5.2M546.8,674.0V711.9M544.2,674.0h5.2M544.2,711.9h5.2M556.1,675.2V713.1M553.5,675.2h5.2M553.5,713.1h5.2M565.4,675.0V713.0M562.8,675.0h5.2M562.8,713.0h5.2" fill="none" stroke="#8585ff" stroke-width="1.0"/>
<path d="M128.6,635.2V678.6M126.0,635.2h5.2M126.0,678.6h5.2M137.9,641.9V687.5M135.3,641.9h5.2M135.3,687.5h5.2M147.2,647.9V695.6M144.6,647.9h5.2M144.6,695.6h5.2M156.5,654.4V704.3M153.9,654.4h5.2M153.9,704.3h5.2M165.9,656.9V709.0M163.3,656.9h5.2M163.3,709.0h5.2M175.2,660.5V714.8M172.6,660.5h5.2M172.6,714.8h5.2M184.5,664.0V720.4M181.9,664.0h5.2M181.9,720.4h5.2M193.8,667.4V726.0M191.2,667.4h5.2M191.2,726.0h5.2M203.1,668.3V729.1M200.5,668.3h5.2M200.5,729.1h5.2M212.4,668.7V731.6M209.8,668.7h5.2M209.8,731.6h5.2M221.8,670.0V735.0M219.2,670.0h5.2M219.2,735.0h5.2M231.1,673.9V738.0M228.5,673.9h5.2M228.5,738.0h5.2M240.4,675.1V738.2M237.8,675.1h5.2M237.8,738.2h5.2M249.7,678.7V740.8M247.1,678.7h5.2M247.1,740.8h5.2M259.0,679.5V740.6M256.4,679.5h5.2M256.4,740.6h5.2M268.3,683.3V743.4M265.7,683.3h5.2M265.7,743.4h5.2M277.6,683.8V742.9M275.0,683.8h5.2M275.0,742.9h5.2M287.0,685.2V743.3M284.4,685.2h5.2M284.4,743.3h5.2M296.3,687.3V744.4M293.7,687.3h5.2M293.7,744.4h5.2M305.6,688.6V744.6M303.0,688.6h5.2M303.0,744.6h5.2M314.9,690.0V745.0M312.3,690.0h5.2M312.3,745.0h5.2M324.2,691.4V745.5M321.6,691.4h5.2M321.6,745.5h5.2M333.5,692.6V745.7M330.9,692.6h5.2M330.9,745.7h5.2M342.8,694.0V746.1M340.2,694.0h5.2M340.2,746.1h5.2M352.2,695.2V746.3M349.6,695.2h5.2M349.6,746.3h5.2M361.5,696.6V746.7M358.9,696.6h5.2M358.9,746.7h5.2M370.8,697.1V746.2M368.2,697.1h5.2M368.2,746.2h5.2M380.1,698.5V746.6M377.5,698.5h5.2M377.5,746.6h5.2M389.4,699.1V746.8M386.8,699.1h5.2M386.8,746.8h5.2M398.7,699.9V747.4M396.1,699.9h5.2M396.1,747.4h5.2M408.0,700.7V747.7M405.4,700.7h5.2M405.4,747.7h5.2M417.4,701.4V748.1M414.8,701.4h5.2M414.8,748.1h5.2M426.7,702.1V748.5M424.1,702.1h5.2M424.1,748.5h5.2M436.0,702.8V748.8M433.4,702.8h5.2M433.4,748.8h5.2M445.3,703.3V749.0M442.7,703.3h5.2M442.7,749.0h5.2M454.6,704.1V749.4M452.0,704.1h5.2M452.0,749.4h5.2M463.9,704.6V749.6M461.3,704.6h5.2M461.3,749.6h5.2M473.3,705.1V749.8M470.7,705.1h5.2M470.7,749.8h5.2M482.6,705.8V750.1M480.0,705.8h5.2M480.0,750.1h5.2M491.9,706.5V750.5M489.3,706.5h5.2M489.3,750.5h5.2M501.2,707.1V750.7M498.6,707.1h5.2M498.6,750.7h5.2M510.5,707.8V751.1M507.9,707.8h5.2M507.9,751.1h5.2M519.8,708.7V751.6M517.2,708.7h5.2M517.2,751.6h5.2M529.1,709.4V752.0M526.5,709.4h5.2M526.5,752.0h5.2M538.5,710.1V752.4M535.9,710.1h5.2M535.9,752.4h5.2M547.8,710.8V752.7M545.2,710.8h5.2M545.2,752.7h5.2M557.1,711.7V753.3M554.5,711.7h5.2M554.5,753.3h5.2M566.4,712.3V753.5M563.8,712.3h5.2M563.8,753.5h5.2" fill="none" stroke="#74c874" stroke-width="1.0"/>
<path d="M127.6,580.8V666.5M125.0,580.8h5.2M125.0,666.5h5.2M136.9,594.7V678.7M134.3,594.7h5.2M134.3,678.7h5.2M146.2,611.6V693.9M143.6,611.6h5.2M143.6,693.9h5.2M155.5,624.9V705.6M152.9,624.9h5.2M152.9,705.6h5.2M164.9,635.2V714.1M162.3,635.2h5.2M162.3,714.1h5.2M174.2,647.4V724.7M171.6,647.4h5.2M171.6,724.7h5.2M183.5,654.8V730.3M180.9,654.8h5.2M180.9,730.3h5.2M192.8,661.4V735.3M190.2,661.4h5.2M190.2,735.3h5.2M202.1,665.1V737.3M199.5,665.1h5.2M199.5,737.3h5.2M211.4,672.3V742.8M208.8,672.3h5.2M208.8,742.8h5.2M220.8,673.9V744.4M218.2,673.9h5.2M218.2,744.4h5.2M230.1,678.1V748.6M227.5,678.1h5.2M227.5,748.6h5.2M239.4,678.6V749.1M236.8,678.6h5.2M236.8,749.1h5.2M248.7,679.4V749.9M246.1,679.4h5.2M246.1,749.9h5.2M258.0,682.8V753.3M255.4,682.8h5.2M255.4,753.3h5.2M267.3,683.1V753.7M264.7,683.1h5.2M264.7,753.7h5.2M276.6,685.5V756.0M274.0,685.5h5.2M274.0,756.0h5.2M286.0,685.5V756.0M283.4,685.5h5.2M283.4,756.0h5.2M295.3,685.3V755.8M292.7,685.3h5.2M292.7,755.8h5.2M304.6,686.0V756.6M302.0,686.0h5.2M302.0,756.6h5.2M313.9,686.4V756.9M311.3,686.4h5.2M311.3,756.9h5.2M323.2,687.3V757.8M320.6,687.3h5.2M320.6,757.8h5.2M332.5,687.7V758.2M329.9,687.7h5.2M329.9,758.2h5.2M341.8,688.0V758.5M339.2,688.0h5.2M339.2,758.5h5.2M351.2,688.0V758.5M348.6,688.0h5.2M348.6,758.5h5.2M360.5,688.4V758.9M357.9,688.4h5.2M357.9,758.9h5.2M369.8,689.3V759.8M367.2,689.3h5.2M367.2,759.8h5.2M379.1,689.3V759.8M376.5,689.3h5.2M376.5,759.8h5.2M388.4,690.0V760.5M385.8,690.0h5.2M385.8,760.5h5.2M397.7,689.7V760.2M395.1,689.7h5.2M395.1,760.2h5.2M407.0,689.7V760.2M404.4,689.7h5.2M404.4,760.2h5.2M416.4,691.6V762.2M413.8,691.6h5.2M413.8,762.2h5.2M425.7,691.6V762.2M423.1,691.6h5.2M423.1,762.2h5.2M435.0,692.2V762.7M432.4,692.2h5.2M432.4,762.7h5.2M444.3,691.8V762.3M441.7,691.8h5.2M441.7,762.3h5.2M453.6,690.6V761.1M451.0,690.6h5.2M451.0,761.1h5.2M462.9,691.5V762.0M460.3,691.5h5.2M460.3,762.0h5.2M472.3,692.2V762.7M469.7,692.2h5.2M469.7,762.7h5.2M481.6,692.2V762.7M479.0,692.2h5.2M479.0,762.7h5.2M490.9,692.7V763.2M488.3,692.7h5.2M488.3,763.2h5.2M500.2,693.1V763.6M497.6,693.1h5.2M497.6,763.6h5.2M509.5,693.5V764.0M506.9,693.5h5.2M506.9,764.0h5.2M518.8,693.8V764.3M516.2,693.8h5.2M516.2,764.3h5.2M528.1,693.8V764.3M525.5,693.8h5.2M525.5,764.3h5.2M537.5,692.7V763.2M534.9,692.7h5.2M534.9,763.2h5.2M546.8,693.5V764.0M544.2,693.5h5.2M544.2,764.0h5.2M556.1,694.2V764.7M553.5,694.2h5.2M553.5,764.7h5.2M565.4,696.3V766.9M562.8,696.3h5.2M562.8,766.9h5.2" fill="none" stroke="#ff7676" stroke-width="1.0"/>
<path d="M124.00,648.45h7.2v7.2h-7.2zM133.31,650.80h7.2v7.2h-7.2zM142.63,649.90h7.2v7.2h-7.2zM151.94,649.90h7.2v7.2h-7.2zM161.26,649.90h7.2v7.2h-7.2zM170.57,649.90h7.2v7.2h-7.2zM179.89,649.90h7.2v7.2h-7.2zM189.21,649.72h7.2v7.2h-7.2zM198.52,649.90h7.2v7.2h-7.2zM207.84,650.80h7.2v7.2h-7.2zM217.15,649.90h7.2v7.2h-7.2zM226.47,649.90h7.2v7.2h-7.2zM235.78,649.18h7.2v7.2h-7.2zM245.09,649.90h7.2v7.2h-7.2zM254.41,649.90h7.2v7.2h-7.2zM263.72,649.72h7.2v7.2h-7.2zM273.04,652.97h7.2v7.2h-7.2zM282.35,652.43h7.2v7.2h-7.2zM291.67,649.90h7.2v7.2h-7.2zM300.98,652.43h7.2v7.2h-7.2zM310.30,651.34h7.2v7.2h-7.2zM319.61,653.33h7.2v7.2h-7.2zM328.93,653.33h7.2v7.2h-7.2zM338.24,653.33h7.2v7.2h-7.2zM347.56,652.97h7.2v7.2h-7.2zM356.88,653.33h7.2v7.2h-7.2zM366.19,654.06h7.2v7.2h-7.2zM375.50,654.06h7.2v7.2h-7.2zM384.82,654.60h7.2v7.2h-7.2zM394.13,654.06h7.2v7.2h-7.2zM403.45,656.59h7.2v7.2h-7.2zM412.76,656.23h7.2v7.2h-7.2zM422.08,655.86h7.2v7.2h-7.2zM431.39,657.13h7.2v7.2h-7.2zM440.71,657.49h7.2v7.2h-7.2zM450.02,656.23h7.2v7.2h-7.2zM459.34,657.49h7.2v7.2h-7.2zM468.65,659.66h7.2v7.2h-7.2zM477.97,658.76h7.2v7.2h-7.2zM487.28,658.22h7.2v7.2h-7.2zM496.60,658.76h7.2v7.2h-7.2zM505.91,660.38h7.2v7.2h-7.2zM515.23,660.38h7.2v7.2h-7.2zM524.54,660.02h7.2v7.2h-7.2zM533.86,661.29h7.2v7.2h-7.2zM543.17,662.01h7.2v7.2h-7.2zM552.49,662.92h7.2v7.2h-7.2zM561.80,663.28h7.2v7.2h-7.2z" fill="#000000"/>
<path d="M124.00,623.50h7.2v7.2h-7.2zM133.31,624.77h7.2v7.2h-7.2zM142.63,629.29h7.2v7.2h-7.2zM151.94,631.64h7.2v7.2h-7.2zM161.26,634.17h7.2v7.2h-7.2zM170.57,635.43h7.2v7.2h-7.2zM179.89,639.95h7.2v7.2h-7.2zM189.21,641.76h7.2v7.2h-7.2zM198.52,643.75h7.2v7.2h-7.2zM207.84,645.92h7.2v7.2h-7.2zM217.15,648.27h7.2v7.2h-7.2zM226.47,651.16h7.2v7.2h-7.2zM235.78,652.43h7.2v7.2h-7.2zM245.09,654.78h7.2v7.2h-7.2zM254.41,656.23h7.2v7.2h-7.2zM263.72,657.13h7.2v7.2h-7.2zM273.04,659.48h7.2v7.2h-7.2zM282.35,662.92h7.2v7.2h-7.2zM291.67,663.28h7.2v7.2h-7.2zM300.98,665.45h7.2v7.2h-7.2zM310.30,665.81h7.2v7.2h-7.2zM319.61,667.80h7.2v7.2h-7.2zM328.93,668.52h7.2v7.2h-7.2zM338.24,671.23h7.2v7.2h-7.2zM347.56,671.59h7.2v7.2h-7.2zM356.88,670.69h7.2v7.2h-7.2zM366.19,674.85h7.2v7.2h-7.2zM375.50,674.85h7.2v7.2h-7.2zM384.82,674.85h7.2v7.2h-7.2zM394.13,676.48h7.2v7.2h-7.2zM403.45,676.30h7.2v7.2h-7.2zM412.76,678.46h7.2v7.2h-7.2zM422.08,679.91h7.2v7.2h-7.2zM431.39,681.18h7.2v7.2h-7.2zM440.71,682.08h7.2v7.2h-7.2zM450.02,682.08h7.2v7.2h-7.2zM459.34,681.90h7.2v7.2h-7.2zM468.65,684.07h7.2v7.2h-7.2zM477.97,685.15h7.2v7.2h-7.2zM487.28,685.15h7.2v7.2h-7.2zM496.60,686.24h7.2v7.2h-7.2zM505.91,686.78h7.2v7.2h-7.2zM515.23,686.24h7.2v7.2h-7.2zM524.54,688.59h7.2v7.2h-7.2zM533.86,688.95h7.2v7.2h-7.2zM543.17,689.31h7.2v7.2h-7.2zM552.49,690.58h7.2v7.2h-7.2zM561.80,690.40h7.2v7.2h-7.2z" fill="#0000ff"/>
<path d="M124.00,653.33h7.2v7.2h-7.2zM133.31,661.11h7.2v7.2h-7.2zM142.63,668.16h7.2v7.2h-7.2zM151.94,675.75h7.2v7.2h-7.2zM161.26,679.37h7.2v7.2h-7.2zM170.57,684.07h7.2v7.2h-7.2zM179.89,688.59h7.2v7.2h-7.2zM189.21,693.11h7.2v7.2h-7.2zM198.52,695.10h7.2v7.2h-7.2zM207.84,696.54h7.2v7.2h-7.2zM217.15,698.90h7.2v7.2h-7.2zM226.47,702.33h7.2v7.2h-7.2zM235.78,703.05h7.2v7.2h-7.2zM245.09,706.13h7.2v7.2h-7.2zM254.41,706.49h7.2v7.2h-7.2zM263.72,709.74h7.2v7.2h-7.2zM273.04,709.74h7.2v7.2h-7.2zM282.35,710.65h7.2v7.2h-7.2zM291.67,712.27h7.2v7.2h-7.2zM300.98,713.00h7.2v7.2h-7.2zM310.30,713.90h7.2v7.2h-7.2zM319.61,714.81h7.2v7.2h-7.2zM328.93,715.53h7.2v7.2h-7.2zM338.24,716.43h7.2v7.2h-7.2zM347.56,717.16h7.2v7.2h-7.2zM356.88,718.06h7.2v7.2h-7.2zM366.19,718.06h7.2v7.2h-7.2zM375.50,718.96h7.2v7.2h-7.2zM384.82,719.33h7.2v7.2h-7.2zM394.13,720.05h7.2v7.2h-7.2zM403.45,720.59h7.2v7.2h-7.2zM412.76,721.13h7.2v7.2h-7.2zM422.08,721.68h7.2v7.2h-7.2zM431.39,722.22h7.2v7.2h-7.2zM440.71,722.58h7.2v7.2h-7.2zM450.02,723.12h7.2v7.2h-7.2zM459.34,723.48h7.2v7.2h-7.2zM468.65,723.85h7.2v7.2h-7.2zM477.97,724.39h7.2v7.2h-7.2zM487.28,724.93h7.2v7.2h-7.2zM496.60,725.29h7.2v7.2h-7.2zM505.91,725.83h7.2v7.2h-7.2zM515.23,726.56h7.2v7.2h-7.2zM524.54,727.10h7.2v7.2h-7.2zM533.86,727.64h7.2v7.2h-7.2zM543.17,728.18h7.2v7.2h-7.2zM552.49,728.91h7.2v7.2h-7.2zM561.80,729.27h7.2v7.2h-7.2z" fill="#009600"/>
<path d="M124.00,620.07h7.2v7.2h-7.2zM133.31,633.08h7.2v7.2h-7.2zM142.63,649.18h7.2v7.2h-7.2zM151.94,661.65h7.2v7.2h-7.2zM161.26,671.05h7.2v7.2h-7.2zM170.57,682.44h7.2v7.2h-7.2zM179.89,688.95h7.2v7.2h-7.2zM189.21,694.74h7.2v7.2h-7.2zM198.52,697.63h7.2v7.2h-7.2zM207.84,703.96h7.2v7.2h-7.2zM217.15,705.58h7.2v7.2h-7.2zM226.47,709.74h7.2v7.2h-7.2zM235.78,710.29h7.2v7.2h-7.2zM245.09,711.01h7.2v7.2h-7.2zM254.41,714.44h7.2v7.2h-7.2zM263.72,714.81h7.2v7.2h-7.2zM273.04,717.16h7.2v7.2h-7.2zM282.35,717.16h7.2v7.2h-7.2zM291.67,716.98h7.2v7.2h-7.2zM300.98,717.70h7.2v7.2h-7.2zM310.30,718.06h7.2v7.2h-7.2zM319.61,718.96h7.2v7.2h-7.2zM328.93,719.33h7.2v7.2h-7.2zM338.24,719.69h7.2v7.2h-7.2zM347.56,719.69h7.2v7.2h-7.2zM356.88,720.05h7.2v7.2h-7.2zM366.19,720.95h7.2v7.2h-7.2zM375.50,720.95h7.2v7.2h-7.2zM384.82,721.68h7.2v7.2h-7.2zM394.13,721.31h7.2v7.2h-7.2zM403.45,721.31h7.2v7.2h-7.2zM412.76,723.30h7.2v7.2h-7.2zM422.08,723.30h7.2v7.2h-7.2zM431.39,723.85h7.2v7.2h-7.2zM440.71,723.48h7.2v7.2h-7.2zM450.02,722.22h7.2v7.2h-7.2zM459.34,723.12h7.2v7.2h-7.2zM468.65,723.85h7.2v7.2h-7.2zM477.97,723.85h7.2v7.2h-7.2zM487.28,724.39h7.2v7.2h-7.2zM496.60,724.75h7.2v7.2h-7.2zM505.91,725.11h7.2v7.2h-7.2zM515.23,725.47h7.2v7.2h-7.2zM524.54,725.47h7.2v7.2h-7.2zM533.86,724.39h7.2v7.2h-7.2zM543.17,725.11h7.2v7.2h-7.2zM552.49,725.83h7.2v7.2h-7.2zM561.80,728.00h7.2v7.2h-7.2z" fill="#ff0000"/>
<text transform="translate(98.70,918.50) scale(1.1000,1)" font-size="19.8" font-weight="700" fill="#000">0</text>
<text transform="translate(98.70,828.10) scale(1.1000,1)" font-size="19.8" font-weight="700" fill="#000">5</text>
<text transform="translate(86.60,737.70) scale(1.1000,1)" font-size="19.8" font-weight="700" fill="#000">10</text>
<text transform="translate(86.60,647.30) scale(1.1000,1)" font-size="19.8" font-weight="700" fill="#000">15</text>
<text transform="translate(86.60,556.90) scale(1.1000,1)" font-size="19.8" font-weight="700" fill="#000">20</text>
<text transform="translate(118.85,942.20) scale(1.1000,1)" font-size="19.8" font-weight="700" fill="#000">0</text>
<text transform="translate(230.25,942.20) scale(1.1000,1)" font-size="19.8" font-weight="700" fill="#000">2</text>
<text transform="translate(341.65,942.20) scale(1.1000,1)" font-size="19.8" font-weight="700" fill="#000">4</text>
<text transform="translate(453.05,942.20) scale(1.1000,1)" font-size="19.8" font-weight="700" fill="#000">6</text>
<text transform="translate(564.45,942.20) scale(1.1000,1)" font-size="19.8" font-weight="700" fill="#000">8</text>
<text transform="translate(283.60,972.00) scale(1.0425,1)" font-size="22.8" font-weight="700" fill="#000">Time (min)</text>
<text transform="translate(77.90,940.58) rotate(-90) scale(0.9836,1)" font-size="24.2" font-weight="700" fill="#000">Enhancement of signal intensity (dB)</text>
<text transform="translate(0.33,562.90) scale(0.8661,1)" font-size="35.5" font-weight="700" fill="#000">(c)</text>
<line x1="434.70" y1="546.40" x2="481.30" y2="546.40" stroke="#777" stroke-width="1.1" />
<rect x="451.30" y="541.40" width="12.60" height="10.00" fill="#fff" />
<rect x="453.60" y="542.50" width="7.90" height="7.80" fill="#000000" />
<text transform="translate(486.43,553.40) scale(1.0750,1)" font-size="19.2" font-weight="700" fill="#000">Empty NBs</text>
<line x1="434.70" y1="572.20" x2="481.30" y2="572.20" stroke="#777" stroke-width="1.1" />
<rect x="451.30" y="567.20" width="12.60" height="10.00" fill="#fff" />
<rect x="453.60" y="568.30" width="7.90" height="7.80" fill="#0000ff" />
<text transform="translate(486.43,579.20) scale(1.0750,1)" font-size="19.2" font-weight="700" fill="#000">Ir_100</text>
<line x1="434.70" y1="598.00" x2="481.30" y2="598.00" stroke="#777" stroke-width="1.1" />
<rect x="451.30" y="593.00" width="12.60" height="10.00" fill="#fff" />
<rect x="453.60" y="594.10" width="7.90" height="7.80" fill="#009600" />
<text transform="translate(486.43,605.00) scale(1.0750,1)" font-size="19.2" font-weight="700" fill="#000">Ir_500</text>
<line x1="434.70" y1="623.80" x2="481.30" y2="623.80" stroke="#777" stroke-width="1.1" />
<rect x="451.30" y="618.80" width="12.60" height="10.00" fill="#fff" />
<rect x="453.60" y="619.90" width="7.90" height="7.80" fill="#ff0000" />
<text transform="translate(486.43,630.80) scale(1.0750,1)" font-size="19.2" font-weight="700" fill="#000">Ir_1k</text>
</g>
<g id="panel-d">
<rect x="758.70" y="651.70" width="90.50" height="261.60" fill="#000000" />
<rect x="870.80" y="626.70" width="90.50" height="286.60" fill="#0000ff" stroke="#222" stroke-width="0.8" />
<rect x="983.00" y="657.80" width="90.30" height="255.50" fill="#009600" stroke="#222" stroke-width="0.8" />
<rect x="1095.00" y="623.80" width="90.00" height="289.50" fill="#ff0000" stroke="#222" stroke-width="0.8" />
<line x1="804.50" y1="632.50" x2="804.50" y2="652.00" stroke="#000" stroke-width="2.2" />
<line x1="800.00" y1="632.50" x2="809.00" y2="632.50" stroke="#000" stroke-width="2.2" stroke-linecap="round"/>
<line x1="916.20" y1="623.30" x2="916.20" y2="631.20" stroke="#000" stroke-width="2.2" />
<line x1="911.60" y1="623.30" x2="920.80" y2="623.30" stroke="#000" stroke-width="2.2" stroke-linecap="round"/>
<line x1="911.60" y1="631.20" x2="920.80" y2="631.20" stroke="#000" stroke-width="2.2" stroke-linecap="round"/>
<line x1="1028.30" y1="635.80" x2="1028.30" y2="679.70" stroke="#000" stroke-width="2.2" />
<line x1="1023.70" y1="635.80" x2="1032.90" y2="635.80" stroke="#000" stroke-width="2.2" stroke-linecap="round"/>
<line x1="1023.70" y1="679.70" x2="1032.90" y2="679.70" stroke="#000" stroke-width="2.2" stroke-linecap="round"/>
<line x1="1140.00" y1="581.20" x2="1140.00" y2="667.00" stroke="#000" stroke-width="2.2" />
<line x1="1135.40" y1="581.20" x2="1144.60" y2="581.20" stroke="#000" stroke-width="2.2" stroke-linecap="round"/>
<line x1="1135.40" y1="667.00" x2="1144.60" y2="667.00" stroke="#000" stroke-width="2.2" stroke-linecap="round"/>
<line x1="748.30" y1="549.70" x2="748.30" y2="915.00" stroke="#000" stroke-width="3.3" />
<line x1="746.70" y1="913.40" x2="1198.30" y2="913.40" stroke="#000" stroke-width="3.4" />
<line x1="740.80" y1="913.30" x2="748.30" y2="913.30" stroke="#000" stroke-width="3.2" />
<line x1="740.80" y1="822.65" x2="748.30" y2="822.65" stroke="#000" stroke-width="3.2" />
<line x1="740.80" y1="732.00" x2="748.30" y2="732.00" stroke="#000" stroke-width="3.2" />
<line x1="740.80" y1="641.35" x2="748.30" y2="641.35" stroke="#000" stroke-width="3.2" />
<line x1="740.80" y1="550.70" x2="748.30" y2="550.70" stroke="#000" stroke-width="3.2" />
<line x1="744.60" y1="867.97" x2="748.30" y2="867.97" stroke="#000" stroke-width="2.6" />
<line x1="744.60" y1="777.32" x2="748.30" y2="777.32" stroke="#000" stroke-width="2.6" />
<line x1="744.60" y1="686.67" x2="748.30" y2="686.67" stroke="#000" stroke-width="2.6" />
<line x1="744.60" y1="596.02" x2="748.30" y2="596.02" stroke="#000" stroke-width="2.6" />
<line x1="804.20" y1="913.40" x2="804.20" y2="920.20" stroke="#000" stroke-width="3.2" />
<line x1="915.80" y1="913.40" x2="915.80" y2="920.20" stroke="#000" stroke-width="3.2" />
<line x1="1028.30" y1="913.40" x2="1028.30" y2="920.20" stroke="#000" stroke-width="3.2" />
<line x1="1140.00" y1="913.40" x2="1140.00" y2="920.20" stroke="#000" stroke-width="3.2" />
<line x1="748.30" y1="913.40" x2="748.30" y2="916.90" stroke="#000" stroke-width="2.8" />
<line x1="860.00" y1="913.40" x2="860.00" y2="916.90" stroke="#000" stroke-width="2.8" />
<line x1="972.00" y1="913.40" x2="972.00" y2="916.90" stroke="#000" stroke-width="2.8" />
<line x1="1084.20" y1="913.40" x2="1084.20" y2="916.90" stroke="#000" stroke-width="2.8" />
<line x1="1196.70" y1="913.40" x2="1196.70" y2="916.90" stroke="#000" stroke-width="2.8" />
<text transform="translate(723.12,920.60) scale(1.0800,1)" font-size="21" font-weight="700" fill="#000">0</text>
<text transform="translate(722.04,829.95) scale(1.0800,1)" font-size="21" font-weight="700" fill="#000">5</text>
<text transform="translate(710.51,739.30) scale(1.0800,1)" font-size="21" font-weight="700" fill="#000">10</text>
<text transform="translate(709.43,648.65) scale(1.0800,1)" font-size="21" font-weight="700" fill="#000">15</text>
<text transform="translate(710.51,558.00) scale(1.0800,1)" font-size="21" font-weight="700" fill="#000">20</text>
<text transform="translate(744.69,942.50) scale(1.1110,1)" font-size="19.9" font-weight="700" fill="#000">Empty NBs</text>
<text transform="translate(883.90,942.50) scale(1.0982,1)" font-size="19.9" font-weight="700" fill="#000">Ir_100</text>
<text transform="translate(995.90,942.50) scale(1.1018,1)" font-size="19.9" font-weight="700" fill="#000">Ir_500</text>
<text transform="translate(1114.21,942.50) scale(1.0886,1)" font-size="19.9" font-weight="700" fill="#000">Ir_1k</text>
<text transform="translate(892.19,979.20) scale(1.1145,1)" font-size="19.9" font-weight="700" fill="#000">NB formulation</text>
<text transform="translate(700.30,870.98) rotate(-90) scale(0.9804,1)" font-size="22.7" font-weight="700" fill="#000">Initial signal intensity (dB)</text>
<text transform="translate(788.98,610.00) scale(1.0245,1)" font-size="25.5" font-weight="400" fill="#000" stroke="#000" stroke-width="0.7" stroke-linejoin="round">ns</text>
<text transform="translate(636.97,564.20) scale(0.9332,1)" font-size="35.5" font-weight="700" fill="#000">(d)</text>
</g>
<g id="panel-e">
<rect x="1358.00" y="603.30" width="89.50" height="307.30" fill="#000000" />
<rect x="1470.00" y="663.00" width="89.20" height="247.60" fill="#0000ff" stroke="#222" stroke-width="0.8" />
<rect x="1581.30" y="684.20" width="89.20" height="226.40" fill="#009600" stroke="#222" stroke-width="0.8" />
<rect x="1693.00" y="707.00" width="89.20" height="203.60" fill="#ff0000" stroke="#222" stroke-width="0.8" />
<line x1="1403.00" y1="579.70" x2="1403.00" y2="604.00" stroke="#000" stroke-width="2.2" />
<line x1="1398.50" y1="579.70" x2="1407.50" y2="579.70" stroke="#000" stroke-width="2.2" stroke-linecap="round"/>
<line x1="1514.70" y1="642.50" x2="1514.70" y2="683.00" stroke="#000" stroke-width="2.2" />
<line x1="1510.10" y1="642.50" x2="1519.30" y2="642.50" stroke="#000" stroke-width="2.2" stroke-linecap="round"/>
<line x1="1510.10" y1="683.00" x2="1519.30" y2="683.00" stroke="#000" stroke-width="2.2" stroke-linecap="round"/>
<line x1="1626.20" y1="676.70" x2="1626.20" y2="692.00" stroke="#000" stroke-width="2.2" />
<line x1="1621.60" y1="676.70" x2="1630.80" y2="676.70" stroke="#000" stroke-width="2.2" stroke-linecap="round"/>
<line x1="1621.60" y1="692.00" x2="1630.80" y2="692.00" stroke="#000" stroke-width="2.2" stroke-linecap="round"/>
<line x1="1737.50" y1="698.30" x2="1737.50" y2="715.50" stroke="#000" stroke-width="2.2" />
<line x1="1732.90" y1="698.30" x2="1742.10" y2="698.30" stroke="#000" stroke-width="2.2" stroke-linecap="round"/>
<line x1="1732.90" y1="715.50" x2="1742.10" y2="715.50" stroke="#000" stroke-width="2.2" stroke-linecap="round"/>
<line x1="1347.70" y1="549.20" x2="1347.70" y2="912.30" stroke="#000" stroke-width="3.2" />
<line x1="1346.20" y1="910.80" x2="1795.30" y2="910.80" stroke="#000" stroke-width="3.3" />
<line x1="1340.00" y1="910.60" x2="1347.70" y2="910.60" stroke="#000" stroke-width="3.0" />
<line x1="1340.00" y1="845.04" x2="1347.70" y2="845.04" stroke="#000" stroke-width="3.0" />
<line x1="1340.00" y1="779.48" x2="1347.70" y2="779.48" stroke="#000" stroke-width="3.0" />
<line x1="1340.00" y1="713.92" x2="1347.70" y2="713.92" stroke="#000" stroke-width="3.0" />
<line x1="1340.00" y1="648.36" x2="1347.70" y2="648.36" stroke="#000" stroke-width="3.0" />
<line x1="1340.00" y1="582.80" x2="1347.70" y2="582.80" stroke="#000" stroke-width="3.0" />
<line x1="1343.80" y1="877.82" x2="1347.70" y2="877.82" stroke="#000" stroke-width="2.6" />
<line x1="1343.80" y1="812.26" x2="1347.70" y2="812.26" stroke="#000" stroke-width="2.6" />
<line x1="1343.80" y1="746.70" x2="1347.70" y2="746.70" stroke="#000" stroke-width="2.6" />
<line x1="1343.80" y1="681.14" x2="1347.70" y2="681.14" stroke="#000" stroke-width="2.6" />
<line x1="1343.80" y1="615.58" x2="1347.70" y2="615.58" stroke="#000" stroke-width="2.6" />
<line x1="1343.80" y1="550.02" x2="1347.70" y2="550.02" stroke="#000" stroke-width="2.6" />
<line x1="1402.80" y1="910.80" x2="1402.80" y2="917.60" stroke="#000" stroke-width="3.2" />
<line x1="1514.50" y1="910.80" x2="1514.50" y2="917.60" stroke="#000" stroke-width="3.2" />
<line x1="1626.20" y1="910.80" x2="1626.20" y2="917.60" stroke="#000" stroke-width="3.2" />
<line x1="1737.50" y1="910.80" x2="1737.50" y2="917.60" stroke="#000" stroke-width="3.2" />
<line x1="1347.70" y1="910.80" x2="1347.70" y2="914.20" stroke="#000" stroke-width="2.8" />
<line x1="1458.30" y1="910.80" x2="1458.30" y2="914.20" stroke="#000" stroke-width="2.8" />
<line x1="1570.30" y1="910.80" x2="1570.30" y2="914.20" stroke="#000" stroke-width="2.8" />
<line x1="1681.70" y1="910.80" x2="1681.70" y2="914.20" stroke="#000" stroke-width="2.8" />
<line x1="1793.70" y1="910.80" x2="1793.70" y2="914.20" stroke="#000" stroke-width="2.8" />
<text transform="translate(1321.90,917.80) scale(1.1000,1)" font-size="20.2" font-weight="700" fill="#000">0</text>
<text transform="translate(1309.55,852.24) scale(1.1000,1)" font-size="20.2" font-weight="700" fill="#000">20</text>
<text transform="translate(1309.55,786.68) scale(1.1000,1)" font-size="20.2" font-weight="700" fill="#000">40</text>
<text transform="translate(1309.55,721.12) scale(1.1000,1)" font-size="20.2" font-weight="700" fill="#000">60</text>
<text transform="translate(1309.55,655.56) scale(1.1000,1)" font-size="20.2" font-weight="700" fill="#000">80</text>
<text transform="translate(1297.20,590.00) scale(1.1000,1)" font-size="20.2" font-weight="700" fill="#000">100</text>
<text transform="translate(1348.62,939.20) scale(1.0835,1)" font-size="18.7" font-weight="700" fill="#000">Empty NBs</text>
<text transform="translate(1484.71,939.20) scale(1.0865,1)" font-size="18.7" font-weight="700" fill="#000">Ir_100</text>
<text transform="translate(1596.42,939.20) scale(1.0771,1)" font-size="18.7" font-weight="700" fill="#000">Ir_500</text>
<text transform="translate(1713.94,939.20) scale(1.0589,1)" font-size="18.7" font-weight="700" fill="#000">Ir_1k</text>
<text transform="translate(1490.36,974.70) scale(1.1353,1)" font-size="19.5" font-weight="700" fill="#000">NB formulation</text>
<text transform="translate(1286.60,888.21) rotate(-90) scale(1.0100,1)" font-size="22" font-weight="700" fill="#000">Remaining signal at 8 min (%)</text>
<path d="M1403,558 L1403,526.5 L1626.6,529.2 L1626.3,608.3" fill="none" stroke="#000" stroke-width="2.6" stroke-linejoin="miter"/>
<line x1="1398.00" y1="573.30" x2="1511.30" y2="574.40" stroke="#000" stroke-width="2.5" />
<line x1="1511.30" y1="634.20" x2="1624.20" y2="634.20" stroke="#000" stroke-width="2.6" />
<line x1="1620.80" y1="664.20" x2="1743.00" y2="664.20" stroke="#000" stroke-width="2.6" />
<text transform="translate(1445.73,564.70) scale(0.9690,1)" font-size="26.3" font-weight="400" fill="#000" stroke="#000" stroke-width="0.7" stroke-linejoin="round">ns</text>
<text transform="translate(1553.72,628.30) scale(0.9803,1)" font-size="26.3" font-weight="400" fill="#000" stroke="#000" stroke-width="0.7" stroke-linejoin="round">ns</text>
<text transform="translate(1507.50,536.00) scale(1.0417,1)" font-size="31" font-weight="400" fill="#000" stroke="#000" stroke-width="0.9" stroke-linejoin="round">*</text>
<text transform="translate(1689.20,671.00) scale(1.0417,1)" font-size="31" font-weight="400" fill="#000" stroke="#000" stroke-width="0.9" stroke-linejoin="round">*</text>
<text transform="translate(1203.26,571.00) scale(0.9383,1)" font-size="35.5" font-weight="700" fill="#000">(e)</text>
</g>
</svg>
</body></html>
